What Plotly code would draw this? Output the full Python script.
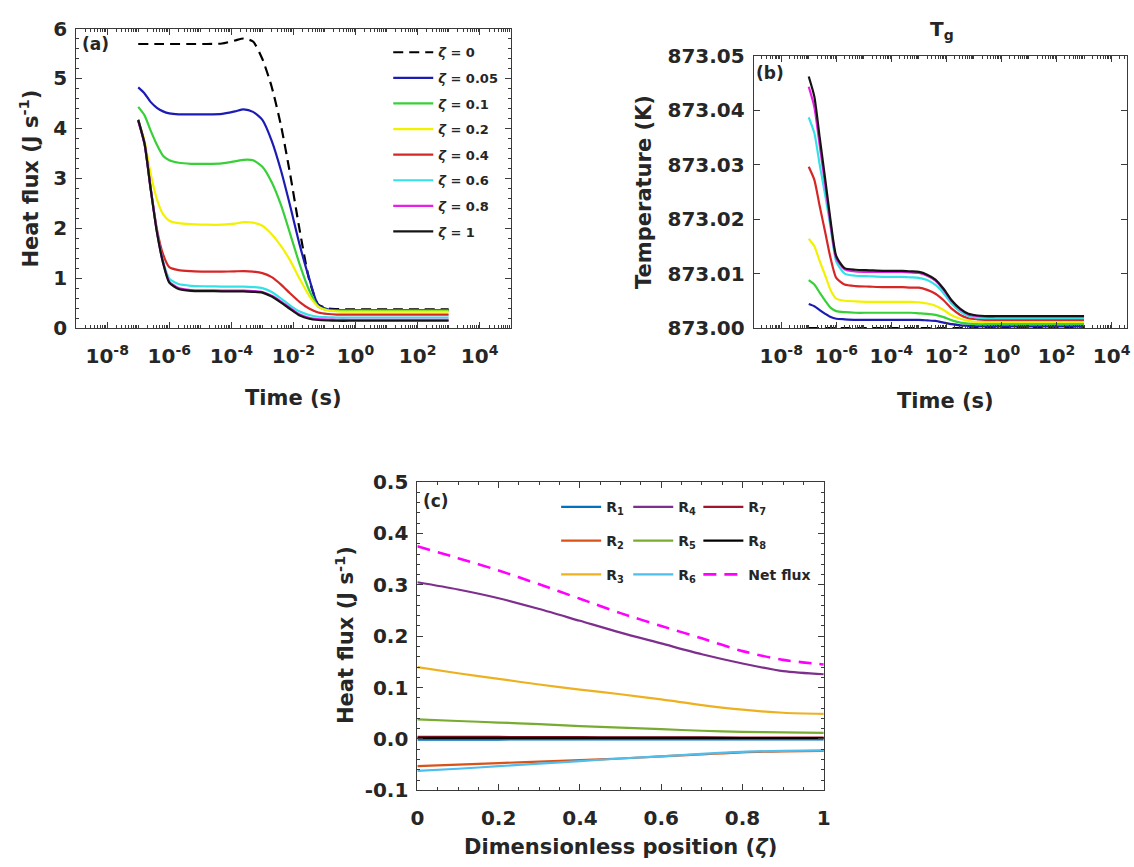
import plotly.graph_objects as go

W, H = 1134, 867

# ---------------- data ----------------
# time grid (s) shared by panels (a) and (b)
TIME = [1.0e-7, 1.6e-7, 2.5e-7, 4.0e-7, 6.3e-7, 1.0e-6, 2.0e-6, 5.0e-6, 1.6e-5, 5.0e-5,
        1.3e-4, 2.5e-4, 5.0e-4, 1.0e-3, 2.0e-3, 4.0e-3, 7.9e-3, 1.6e-2, 3.2e-2, 6.3e-2,
        0.13, 0.25, 0.63, 3.2, 32.0, 1000.0]

ZETA_LABELS = ["0", "0.05", "0.1", "0.2", "0.4", "0.6", "0.8", "1"]

# (a) heat flux (J/s) at each dimensionless position
FLUX_Z0 = [5.69, 5.69, 5.69, 5.69, 5.69, 5.69, 5.69, 5.69, 5.69, 5.70, 5.76, 5.80, 5.74,
           5.39, 4.83, 4.05, 3.07, 1.95, 0.98, 0.47, 0.39, 0.38, 0.375, 0.375, 0.375, 0.375]
FLUX_Z005 = [4.82, 4.70, 4.53, 4.41, 4.34, 4.30, 4.28, 4.28, 4.28, 4.29, 4.34, 4.38, 4.33,
             4.17, 3.75, 3.15, 2.44, 1.66, 1.00, 0.46, 0.375, 0.365, 0.36, 0.36, 0.36, 0.36]
FLUX_Z01 = [4.43, 4.26, 3.96, 3.67, 3.45, 3.36, 3.31, 3.29, 3.29, 3.30, 3.34, 3.37, 3.36,
            3.23, 2.92, 2.46, 1.88, 1.27, 0.76, 0.43, 0.36, 0.35, 0.35, 0.35, 0.35, 0.35]
FLUX_Z02 = [4.17, 3.75, 3.10, 2.58, 2.28, 2.15, 2.10, 2.08, 2.07, 2.07, 2.09, 2.12, 2.11,
            2.05, 1.88, 1.64, 1.35, 0.98, 0.65, 0.43, 0.35, 0.335, 0.33, 0.33, 0.33, 0.33]
FLUX_Z04 = [4.17, 3.70, 2.82, 1.98, 1.48, 1.22, 1.16, 1.14, 1.13, 1.13, 1.135, 1.14, 1.13,
            1.10, 1.02, 0.87, 0.69, 0.52, 0.39, 0.31, 0.28, 0.27, 0.27, 0.27, 0.27, 0.27]
FLUX_Z06 = [4.17, 3.69, 2.81, 1.94, 1.34, 0.99, 0.88, 0.845, 0.835, 0.83, 0.83, 0.83, 0.82,
            0.80, 0.72, 0.59, 0.45, 0.33, 0.26, 0.225, 0.215, 0.21, 0.21, 0.21, 0.21, 0.21]
FLUX_Z08 = [4.15, 3.68, 2.80, 1.93, 1.31, 0.93, 0.80, 0.76, 0.755, 0.75, 0.75, 0.75, 0.74,
            0.72, 0.645, 0.53, 0.40, 0.27, 0.205, 0.18, 0.17, 0.165, 0.165, 0.165, 0.165, 0.165]
FLUX_Z1 = [4.17, 3.69, 2.80, 1.92, 1.31, 0.91, 0.78, 0.745, 0.74, 0.735, 0.735, 0.735, 0.725,
           0.71, 0.63, 0.51, 0.38, 0.25, 0.185, 0.16, 0.15, 0.145, 0.145, 0.145, 0.145, 0.145]

# (b) gas temperature T_g (K) at each dimensionless position
TG_Z0 = [873.0000, 873.0000, 873.0000, 873.0000, 873.0000, 873.0000, 873.0000, 873.0000,
         873.0000, 873.0000, 873.0000, 873.0000, 873.0000, 873.0000, 873.0000, 873.0000,
         873.0000, 873.0000, 873.0000, 873.0000, 873.0000, 873.0000, 873.0000, 873.0000,
         873.0000, 873.0000]
TG_Z005 = [873.0044, 873.0040, 873.0033, 873.0026, 873.0020, 873.0017, 873.0016, 873.0015,
           873.0015, 873.0015, 873.0015, 873.0015, 873.0015, 873.0015, 873.0014, 873.0013,
           873.0010, 873.0007, 873.0005, 873.0004, 873.0003, 873.0003, 873.0003, 873.0003,
           873.0003, 873.0003]
TG_Z01 = [873.0088, 873.0080, 873.0065, 873.0050, 873.0037, 873.0031, 873.0029, 873.0028,
          873.0028, 873.0028, 873.0028, 873.0028, 873.0028, 873.0027, 873.0026, 873.0024,
          873.0020, 873.0014, 873.0010, 873.0008, 873.0007, 873.0007, 873.0007, 873.0007,
          873.0007, 873.0007]
TG_Z02 = [873.0164, 873.0150, 873.0123, 873.0096, 873.0069, 873.0054, 873.0050, 873.0049,
          873.0048, 873.0048, 873.0048, 873.0048, 873.0048, 873.0047, 873.0045, 873.0041,
          873.0033, 873.0023, 873.0017, 873.0013, 873.0011, 873.0011, 873.0011, 873.0011,
          873.0011, 873.0011]
TG_Z04 = [873.0296, 873.0272, 873.0224, 873.0175, 873.0127, 873.0092, 873.0080, 873.0077,
          873.0076, 873.0075, 873.0075, 873.0075, 873.0074, 873.0074, 873.0070, 873.0063,
          873.0051, 873.0035, 873.0024, 873.0018, 873.0016, 873.0015, 873.0015, 873.0015,
          873.0015, 873.0015]
TG_Z06 = [873.0387, 873.0358, 873.0300, 873.0243, 873.0183, 873.0122, 873.0100, 873.0096,
          873.0095, 873.0094, 873.0094, 873.0094, 873.0093, 873.0092, 873.0088, 873.0079,
          873.0064, 873.0044, 873.0030, 873.0022, 873.0019, 873.0018, 873.0018, 873.0018,
          873.0018, 873.0018]
TG_Z08 = [873.0443, 873.0406, 873.0336, 873.0262, 873.0188, 873.0128, 873.0108, 873.0104,
          873.0103, 873.0103, 873.0103, 873.0103, 873.0102, 873.0101, 873.0096, 873.0087,
          873.0070, 873.0049, 873.0034, 873.0025, 873.0022, 873.0021, 873.0021, 873.0021,
          873.0021, 873.0021]
TG_Z1 = [873.0462, 873.0425, 873.0350, 873.0272, 873.0195, 873.0132, 873.0110, 873.0107,
         873.0106, 873.0105, 873.0105, 873.0105, 873.0104, 873.0103, 873.0098, 873.0089,
         873.0072, 873.0050, 873.0035, 873.0026, 873.0023, 873.0022, 873.0022, 873.0022,
         873.0022, 873.0022]

# (c) heat flux contributions along the dimensionless position
ZETA = [0.0, 0.1, 0.2, 0.3, 0.4, 0.5, 0.6, 0.7, 0.8, 0.9, 1.0]
R1 = [-0.0012, -0.0011, -0.0011, -0.0010, -0.0010, -0.0009, -0.0009, -0.0008, -0.0008, -0.0008, -0.0008]
R2 = [-0.053, -0.050, -0.047, -0.044, -0.041, -0.038, -0.034, -0.030, -0.026, -0.024, -0.023]
R3 = [0.140, 0.128, 0.117, 0.106, 0.096, 0.087, 0.077, 0.066, 0.057, 0.051, 0.049]
R4 = [0.305, 0.291, 0.274, 0.253, 0.230, 0.207, 0.186, 0.165, 0.147, 0.132, 0.126]
R5 = [0.038, 0.035, 0.032, 0.029, 0.025, 0.022, 0.019, 0.016, 0.014, 0.013, 0.012]
R6 = [-0.062, -0.058, -0.053, -0.048, -0.043, -0.038, -0.034, -0.029, -0.025, -0.023, -0.022]
R7 = [0.0040, 0.0040, 0.0040, 0.0035, 0.0035, 0.0030, 0.0030, 0.0030, 0.0025, 0.0025, 0.0025]
R8 = [0.0022, 0.0022, 0.0022, 0.0021, 0.0021, 0.0020, 0.0020, 0.0020, 0.0019, 0.0019, 0.0019]
NET = [0.375, 0.352, 0.328, 0.301, 0.273, 0.245, 0.220, 0.196, 0.171, 0.154, 0.145]

TIME_TICK_EXP = [-8, -6, -4, -2, 0, 2, 4]
FLUX_C_TICKS = [-0.1, 0.0, 0.1, 0.2, 0.3, 0.4, 0.5]
FLUX_C_TICK_TEXT = ["-0.1", "0.0", "0.1", "0.2", "0.3", "0.4", "0.5"]

# ---------------- styling ----------------
FONT = "DejaVu Sans"
INK = "#262626"
AXIS = "#3a3a3a"
ZETA_COLORS = ["#000000", "#1c1cb4", "#38d038", "#f2f200", "#d62626",
               "#33e2e6", "#e61ee6", "#141414"]
R_COLORS = ["#0072BD", "#D95319", "#EDB120", "#7E2F8E", "#77AC30",
            "#4DBEEE", "#A2142F", "#000000"]
LINE_W = 2.2


def px(x):
    """horizontal pixel position -> paper fraction"""
    return x / W


def py(y):
    """vertical pixel position (from top) -> paper fraction"""
    return 1 - y / H


fig = go.Figure()

flux_series = [FLUX_Z0, FLUX_Z005, FLUX_Z01, FLUX_Z02, FLUX_Z04, FLUX_Z06, FLUX_Z08, FLUX_Z1]
temp_series = [TG_Z0, TG_Z005, TG_Z01, TG_Z02, TG_Z04, TG_Z06, TG_Z08, TG_Z1]

for i, (lab, flux, col) in enumerate(zip(ZETA_LABELS, flux_series, ZETA_COLORS)):
    fig.add_trace(go.Scatter(
        x=TIME, y=flux, xaxis="x", yaxis="y", mode="lines",
        name=f"<i>ζ</i> = {lab}", legend="legend", legendgroup=f"a{i}",
        line=dict(color=col, width=LINE_W, dash="10px,6px" if i == 0 else "solid",
                  shape="spline", smoothing=0.6),
    ))

for i, (temp, col) in enumerate(zip(temp_series, ZETA_COLORS)):
    fig.add_trace(go.Scatter(
        x=TIME, y=temp, xaxis="x2", yaxis="y2", mode="lines", showlegend=False,
        line=dict(color=col, width=LINE_W, dash="10px,6px" if i == 0 else "solid",
                  shape="spline", smoothing=0.6),
    ))

r_series = [R1, R2, R3, R4, R5, R6, R7, R8]
r_legends = ["legend2", "legend2", "legend2", "legend3", "legend3", "legend3",
             "legend4", "legend4"]
for k, (vals, col, leg) in enumerate(zip(r_series, R_COLORS, r_legends)):
    fig.add_trace(go.Scatter(
        x=ZETA, y=vals, xaxis="x3", yaxis="y3", mode="lines",
        name=f"R<sub>{k + 1}</sub>", legend=leg, legendgroup=f"r{k}",
        line=dict(color=col, width=LINE_W, shape="spline", smoothing=0.8),
    ))
fig.add_trace(go.Scatter(
    x=ZETA, y=NET, xaxis="x3", yaxis="y3", mode="lines",
    name="Net flux", legend="legend4", legendgroup="net",
    line=dict(color="#ff00ff", width=2.6, dash="13px,8px", shape="spline", smoothing=0.8),
))

tick_font = dict(family=FONT, size=20, color=INK, weight="bold")
common = dict(showline=True, linecolor=AXIS, linewidth=1, mirror="allticks",
              ticks="inside", ticklen=6, tickwidth=1, tickcolor=AXIS,
              showgrid=False, zeroline=False, tickfont=tick_font)


def log_time_axis(span):
    return dict(type="log", range=span, tickmode="array",
                tickvals=[10.0 ** e for e in TIME_TICK_EXP],
                ticktext=[f"10<sup>{e}</sup>" for e in TIME_TICK_EXP],
                minor=dict(ticks="inside", ticklen=3, tickcolor=AXIS, dtick="D1", showgrid=False),
                ticklabelstandoff=10, **common)


legend_font = dict(family=FONT, size=14, color=INK, weight="bold")

fig.update_layout(
    width=W, height=H, margin=dict(l=0, r=0, t=0, b=0),
    paper_bgcolor="white", plot_bgcolor="white",
    font=dict(family=FONT, color=INK),
    # (a) heat flux vs time
    xaxis=dict(domain=[px(70), px(510)], anchor="y", **log_time_axis([-9, 5])),
    yaxis=dict(domain=[py(325), py(17)], anchor="x", range=[0, 6], dtick=1,
               minor=dict(ticks="inside", ticklen=3, tickcolor=AXIS, dtick=0.2, showgrid=False),
               ticklabelstandoff=4, **common),
    # (b) gas temperature vs time
    xaxis2=dict(domain=[px(756), 1.0], anchor="y2", **log_time_axis([-9, 4.56])),
    yaxis2=dict(domain=[py(325), py(45)], anchor="x2", range=[873.0, 873.05], dtick=0.01,
                tickformat=".2f", ticklabelstandoff=4, **common),
    # (c) flux contributions vs position
    xaxis3=dict(domain=[px(415.5), px(827)], anchor="y3", range=[0, 1], dtick=0.2,
                minor=dict(ticks="inside", ticklen=3, tickcolor=AXIS, dtick=0.05, showgrid=False),
                ticklabelstandoff=10, **common),
    yaxis3=dict(domain=[py(800.5), py(483.5)], anchor="x3", range=[-0.1, 0.5],
                tickmode="array", tickvals=FLUX_C_TICKS, ticktext=FLUX_C_TICK_TEXT,
                minor=dict(ticks="inside", ticklen=3, tickcolor=AXIS, dtick=0.02, showgrid=False),
                ticklabelstandoff=4, **common),
    legend=dict(x=px(386), y=py(26), xanchor="left", yanchor="top",
                bgcolor="rgba(0,0,0,0)", tracegroupgap=5.7, itemwidth=40,
                font=dict(family=FONT, size=13, color=INK, weight="bold")),
    legend2=dict(x=px(556), y=py(493), xanchor="left", yanchor="top",
                 bgcolor="rgba(0,0,0,0)", tracegroupgap=12.5, itemwidth=40, font=legend_font),
    legend3=dict(x=px(629), y=py(493), xanchor="left", yanchor="top",
                 bgcolor="rgba(0,0,0,0)", tracegroupgap=12.5, itemwidth=40, font=legend_font),
    legend4=dict(x=px(700), y=py(493), xanchor="left", yanchor="top",
                 bgcolor="rgba(0,0,0,0)", tracegroupgap=12.5, itemwidth=40, font=legend_font),
)

title_font = dict(family=FONT, size=21, color=INK, weight="bold")
tag_font = dict(family=FONT, size=17, color=INK, weight="bold")
annotations = [
    # panel tags
    dict(text="(a)", x=px(90), y=py(33), font=tag_font),
    dict(text="(b)", x=px(773), y=py(63), font=tag_font),
    dict(text="(c)", x=px(434.5), y=py(503), font=tag_font),
    # panel (b) heading
    dict(text="T<sub>g</sub>", x=px(947), y=py(19), font=dict(family=FONT, size=20, color=INK, weight="bold")),
    # axis titles
    dict(text="Heat flux (J s<sup>-1</sup>)", x=px(22.5), y=py(171), textangle=-90, font=title_font),
    dict(text="Time (s)", x=px(290), y=py(397), font=title_font),
    dict(text="Temperature (K)", x=px(645), y=py(185), textangle=-90, font=title_font),
    dict(text="Time (s)", x=px(950), y=py(400), font=title_font),
    dict(text="Heat flux (J s<sup>-1</sup>)", x=px(342), y=py(641), textangle=-90, font=title_font),
    dict(text="Dimensionless position (<i>ζ</i>)", x=px(621), y=py(859), font=title_font),
]
for a in annotations:
    a.update(xref="paper", yref="paper", showarrow=False, xanchor="center", yanchor="middle")
fig.update_layout(annotations=annotations)

fig.write_html("out.html")
